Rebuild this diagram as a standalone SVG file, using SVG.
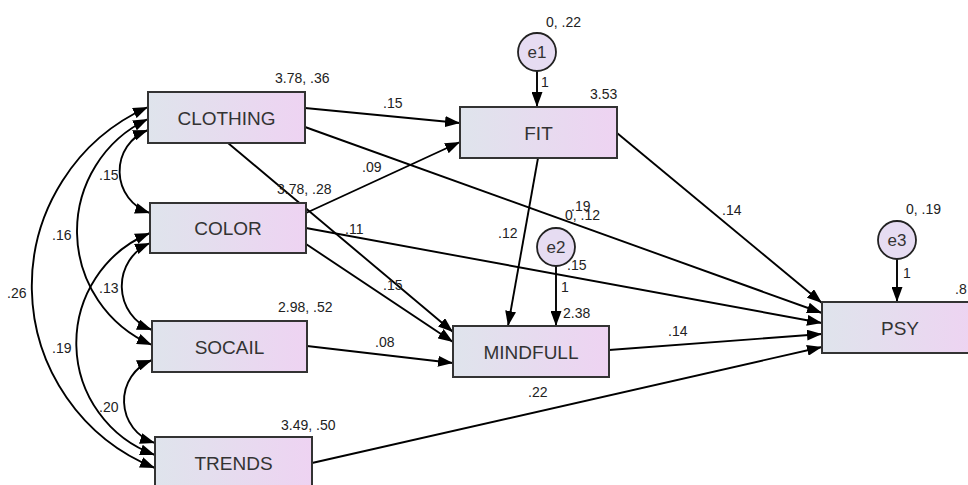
<svg xmlns="http://www.w3.org/2000/svg" width="968" height="485" viewBox="0 0 968 485">
<defs>
<linearGradient id="g" x1="0" y1="0" x2="1" y2="0">
<stop offset="0" stop-color="#dfe4ec"/>
<stop offset="1" stop-color="#eed3f2"/>
</linearGradient>
<marker id="ah" markerUnits="userSpaceOnUse" markerWidth="16" markerHeight="11" refX="15" refY="5.5" orient="auto-start-reverse" viewBox="0 0 16 11">
<path d="M0,0 L15,5.5 L0,11 z" fill="#000"/>
</marker>
<style>
.box{fill:url(#g);stroke:#333;stroke-width:2}
.err{fill:#e6dcf2;stroke:#222;stroke-width:1.8}
.nt{font-family:"Liberation Sans",Arial,sans-serif;font-size:19px;fill:#333;text-anchor:middle}
.et{font-family:"Liberation Sans",Arial,sans-serif;font-size:17px;fill:#333;text-anchor:middle}
.lb{font-family:"Liberation Sans",Arial,sans-serif;font-size:14px;fill:#222}
.c{fill:none;stroke:#000;stroke-width:1.9;marker-end:url(#ah)}
.cv{fill:none;stroke:#000;stroke-width:1.9;marker-start:url(#ah);marker-end:url(#ah)}
</style>
</defs>
<rect width="968" height="485" fill="#fff"/>
<g id="connectors">
<path class="c" d="M305,108 L460,123"/>
<path class="c" d="M305,127 L822,313"/>
<path class="c" d="M228,143 L453,332"/>
<path class="c" d="M306,213 L460,142"/>
<path class="c" d="M306,228 L822,323"/>
<path class="c" d="M306,244 L453,342"/>
<path class="c" d="M307,346 L453,363"/>
<path class="c" d="M312,463 L822,347"/>
<path class="c" d="M609,350 L822,334"/>
<path class="c" d="M538,158 L508,326"/>
<path class="c" d="M617,133 L822,303"/>
<path class="c" d="M537,71 L537,107"/>
<path class="c" d="M556,266 L556,326"/>
<path class="c" d="M897,259 L897,302"/>
<path class="cv" d="M148,107 A196,196 0 0 0 155,468"/>
<path class="cv" d="M148,119 A124,124 0 0 0 152,345"/>
<path class="cv" d="M148,130 A44,44 0 0 0 150,213"/>
<path class="cv" d="M150,233 A119,119 0 0 0 155,455"/>
<path class="cv" d="M150,243 A47,47 0 0 0 152,330"/>
<path class="cv" d="M152,360 A44,44 0 0 0 155,443"/>
</g>
<g id="CLOTHING"><rect class="box" x="148" y="92" width="157" height="51"/><text class="nt" x="226.5" y="124.5">CLOTHING</text></g>
<g id="COLOR"><rect class="box" x="150" y="203" width="156" height="50"/><text class="nt" x="228" y="235">COLOR</text></g>
<g id="SOCAIL"><rect class="box" x="152" y="321" width="155" height="51"/><text class="nt" x="229.5" y="353.5">SOCAIL</text></g>
<g id="TRENDS"><rect class="box" x="155" y="437" width="157" height="51"/><text class="nt" x="233.5" y="469.5">TRENDS</text></g>
<g id="FIT"><rect class="box" x="460" y="107" width="157" height="51"/><text class="nt" x="538.5" y="139.5">FIT</text></g>
<g id="MINDFULL"><rect class="box" x="453" y="326" width="156" height="51"/><text class="nt" x="531" y="358.5">MINDFULL</text></g>
<g id="PSY"><rect class="box" x="822" y="302" width="157" height="51"/><text class="nt" x="900" y="334.5">PSY</text></g>
<g id="e1"><circle class="err" cx="537" cy="52" r="19"/><text class="et" x="537" y="58">e1</text></g>
<g id="e2"><circle class="err" cx="556" cy="247" r="19"/><text class="et" x="556" y="253">e2</text></g>
<g id="e3"><circle class="err" cx="897" cy="240" r="19"/><text class="et" x="897" y="246">e3</text></g>
<g id="labels">
<text class="lb" x="275" y="83">3.78, .36</text>
<text class="lb" x="277" y="194">3.78, .28</text>
<text class="lb" x="278" y="312">2.98, .52</text>
<text class="lb" x="281" y="430">3.49, .50</text>
<text class="lb" x="546" y="27">0, .22</text>
<text class="lb" x="590" y="99">3.53</text>
<text class="lb" x="563" y="318">2.38</text>
<text class="lb" x="565" y="220">0, .12</text>
<text class="lb" x="571" y="211">.19</text>
<text class="lb" x="906" y="214">0, .19</text>
<text class="lb" x="955" y="294">.8</text>
<text class="lb" x="541" y="87">1</text>
<text class="lb" x="561" y="292">1</text>
<text class="lb" x="903" y="278">1</text>
<text class="lb" x="383" y="108">.15</text>
<text class="lb" x="362" y="172">.09</text>
<text class="lb" x="498" y="238">.12</text>
<text class="lb" x="345" y="234">.11</text>
<text class="lb" x="383" y="290">.15</text>
<text class="lb" x="375" y="347">.08</text>
<text class="lb" x="668" y="336">.14</text>
<text class="lb" x="528" y="397">.22</text>
<text class="lb" x="722" y="215">.14</text>
<text class="lb" x="567" y="270">.15</text>
<text class="lb" x="99" y="180">.15</text>
<text class="lb" x="52" y="240">.16</text>
<text class="lb" x="7" y="298">.26</text>
<text class="lb" x="99" y="293">.13</text>
<text class="lb" x="52" y="353">.19</text>
<text class="lb" x="99" y="412">.20</text>
</g>
</svg>
